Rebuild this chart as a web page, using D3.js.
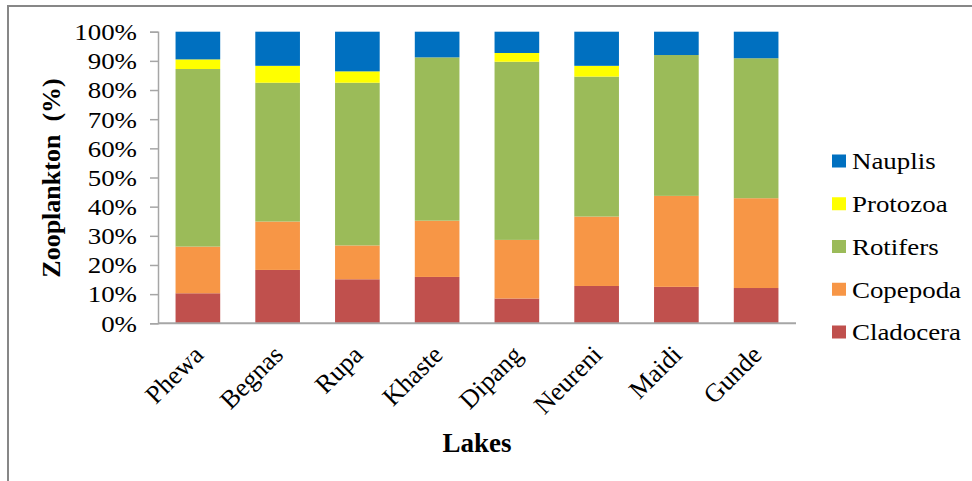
<!DOCTYPE html>
<html>
<head>
<meta charset="utf-8">
<script src="https://cdn.jsdelivr.net/npm/d3@7/dist/d3.min.js"></script>
<style>
  html, body { margin: 0; padding: 0; background: #fff; }
  svg { display: block; }
  text { font-family: "Liberation Serif", "Times New Roman", serif; fill: #000; }
</style>
</head>
<body>
<svg id="chart" width="972" height="481"></svg>
<script>
// Lakes (categories)
const lakes = ["Phewa", "Begnas", "Rupa", "Khaste", "Dipang", "Neureni", "Maidi", "Gunde"];

// Share of each zooplankton group per lake (%)
const cladocera = [10.3, 18.3, 15.1, 15.9, 8.5, 12.8, 12.5, 12.1];
const copepoda  = [16.0, 16.6, 11.6, 19.3, 20.1, 23.8, 31.2, 30.8];
const rotifers  = [60.9, 47.6, 55.8, 56.0, 61.1, 48.0, 48.3, 48.0];
const protozoa  = [3.3, 5.8, 3.9, 0.0, 3.0, 3.7, 0.0, 0.0];
const nauplis   = [9.5, 11.7, 13.6, 8.8, 7.3, 11.7, 8.0, 9.1];

// Stack order, bottom to top
const groups = ["Cladocera", "Copepoda", "Rotifers", "Protozoa", "Nauplis"];
const groupValues = { Cladocera: cladocera, Copepoda: copepoda, Rotifers: rotifers, Protozoa: protozoa, Nauplis: nauplis };
const groupColors = { Cladocera: "#C0504D", Copepoda: "#F79646", Rotifers: "#9BBB59", Protozoa: "#FFFF00", Nauplis: "#0070C0" };

// Legend order (top to bottom)
const legendOrder = ["Nauplis", "Protozoa", "Rotifers", "Copepoda", "Cladocera"];

// Y tick values (%)
const yTicks = [0, 10, 20, 30, 40, 50, 60, 70, 80, 90, 100];

const rows = lakes.map((lake, i) => {
  const r = { lake };
  groups.forEach(g => { r[g] = groupValues[g][i]; });
  return r;
});

const SERIF = "'Liberation Serif', 'Times New Roman', serif";
const svg = d3.select("#chart");
const W = 972, H = 481;
const stretch = 1.17; // horizontal widening of the regular-weight labels

// Outer frame
svg.append("path")
  .attr("d", `M8,${H} L8,6 L${W},6`)
  .attr("fill", "none")
  .attr("stroke", "#878787")
  .attr("stroke-width", 2);

const x = d3.scaleBand()
  .domain(lakes)
  .range([158, 796])
  .paddingInner(0.44)
  .paddingOuter(0.22);

const y = d3.scaleLinear()
  .domain([0, 100])
  .range([323.3, 31.7]);

const stacked = d3.stack().keys(groups)(rows);

// Bars
svg.append("g")
  .selectAll("g")
  .data(stacked)
  .join("g")
  .attr("fill", d => groupColors[d.key])
  .selectAll("rect")
  .data(d => d)
  .join("rect")
  .attr("x", d => x(d.data.lake))
  .attr("width", x.bandwidth())
  .attr("y", d => y(d[1]))
  .attr("height", d => Math.max(0, y(d[0]) - y(d[1])));

// Y axis
const yAxis = svg.append("g")
  .attr("transform", "translate(158,0)")
  .call(d3.axisLeft(y).tickValues(yTicks).tickFormat(d => d + "%").tickSize(8).tickSizeOuter(8));
yAxis.select(".domain").attr("stroke", "#a6a6a6").attr("stroke-width", 1.5);
yAxis.selectAll(".tick line").attr("stroke", "#a6a6a6").attr("stroke-width", 1.5);
yAxis.selectAll(".tick text")
  .attr("x", -21 / stretch)
  .attr("dy", "0.34em")
  .attr("transform", `scale(${stretch},1)`)
  .style("font-family", SERIF)
  .style("font-size", "23px")
  .attr("fill", "#000");

// X axis
const xAxis = svg.append("g")
  .attr("transform", "translate(0,323.3)")
  .call(d3.axisBottom(x).tickSize(0).tickSizeOuter(0));
xAxis.select(".domain").attr("stroke", "#a6a6a6").attr("stroke-width", 2).attr("d", "M158,0H796");
xAxis.selectAll(".tick text")
  .attr("x", 0).attr("y", 0).attr("dy", 0)
  .attr("text-anchor", "end")
  .attr("transform", "translate(7,33) rotate(-45)")
  .style("font-family", SERIF)
  .style("font-size", "26px")
  .attr("fill", "#000");

// Axis titles
svg.append("text")
  .attr("x", 477).attr("y", 452)
  .attr("text-anchor", "middle")
  .style("font-family", SERIF)
  .style("font-weight", "bold")
  .style("font-size", "27px")
  .text("Lakes");

svg.append("text")
  .attr("transform", "translate(60,178) rotate(-90)")
  .attr("text-anchor", "middle")
  .style("font-family", SERIF)
  .style("font-weight", "bold")
  .style("font-size", "26px")
  .style("white-space", "pre")
  .text("Zooplankton  (%)");

// Legend
const legend = svg.append("g").attr("transform", "translate(832,161)");
const items = legend.selectAll("g")
  .data(legendOrder)
  .join("g")
  .attr("transform", (d, i) => `translate(0,${i * 42.75})`);
items.append("rect")
  .attr("x", 0).attr("y", -6.5)
  .attr("width", 14).attr("height", 13)
  .attr("fill", d => groupColors[d]);
items.append("text")
  .attr("x", 20 / stretch)
  .attr("y", 0)
  .attr("dy", "0.36em")
  .attr("transform", `scale(${stretch},1)`)
  .style("font-family", SERIF)
  .style("font-size", "23px")
  .text(d => d);
</script>
</body>
</html>
